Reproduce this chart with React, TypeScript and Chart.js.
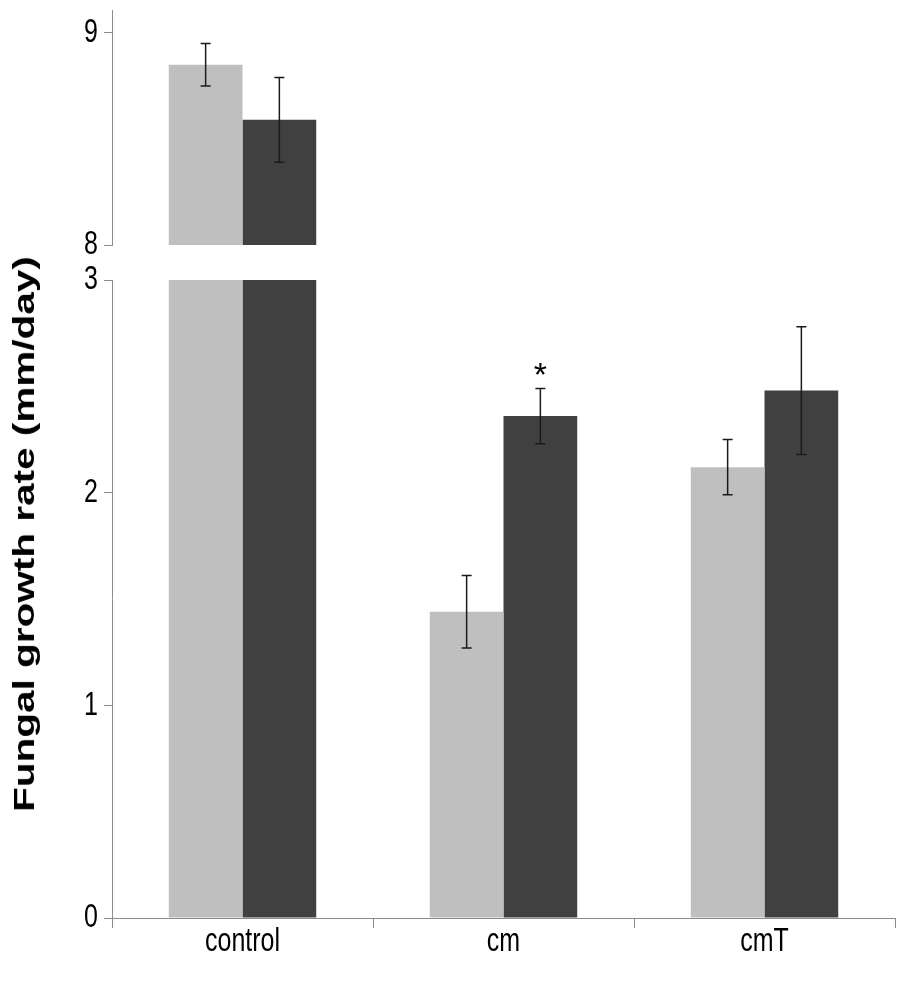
import React, { useEffect, useRef } from "react";
import Chart from "chart.js/auto";

const categories = ["control", "cm", "cmT"];
const lightValues = [8.85, 1.44, 2.12];
const lightErrors = [0.1, 0.17, 0.13];
const darkValues = [8.59, 2.36, 2.48];
const darkErrors = [0.2, 0.13, 0.3];
const darkMarks = ["", "*", ""];
const upperTicks = [8, 9];
const lowerTicks = [0, 1, 2, 3];
const yTitle = "Fungal growth rate (mm/day)";

const LIGHT = "#bfbfbf";
const DARK = "#404040";
const AXIS = "#8c8c8c";
const LABEL_FONT = "25px 'Liberation Sans', Arial, sans-serif";

// draws the whiskers (and significance marks) on top of the bars
const errorBars = {
    id: "errorBars",
    afterDatasetsDraw(chart: any) {
        const { ctx } = chart;
        const y = chart.scales.y;
        ctx.save();
        ctx.strokeStyle = "#1a1a1a";
        ctx.lineWidth = 1.5;
        chart.data.datasets.forEach((ds: any, i: number) => {
            const meta = chart.getDatasetMeta(i);
            meta.data.forEach((bar: any, j: number) => {
                const v = ds.data[j];
                if (v == null || v > y.max || v < y.min) return;
                const e = ds.errors[j];
                const top = y.getPixelForValue(v + e);
                const bottom = y.getPixelForValue(v - e);
                const x = bar.x;
                ctx.beginPath();
                ctx.moveTo(x, top);
                ctx.lineTo(x, bottom);
                ctx.moveTo(x - 5, top);
                ctx.lineTo(x + 5, top);
                ctx.moveTo(x - 5, bottom);
                ctx.lineTo(x + 5, bottom);
                ctx.stroke();
                const mark = ds.marks ? ds.marks[j] : "";
                if (mark) {
                    ctx.fillStyle = "#000";
                    ctx.font = "34px 'Liberation Sans', Arial, sans-serif";
                    ctx.textAlign = "center";
                    ctx.textBaseline = "middle";
                    ctx.fillText(mark, x, top - 12);
                }
            });
        });
        ctx.restore();
    },
};

// the original figure is stretched vertically, so tick labels are drawn tall and narrow
const stretchedLabels = {
    id: "stretchedLabels",
    afterDraw(chart: any) {
        const { ctx } = chart;
        const draw = (text: string, x: number, y: number, align: string) => {
            ctx.save();
            ctx.translate(x, y);
            ctx.scale(1, 1.35);
            ctx.fillStyle = "#000";
            ctx.font = LABEL_FONT;
            ctx.textAlign = align;
            ctx.textBaseline = "middle";
            ctx.fillText(text, 0, 0);
            ctx.restore();
        };
        const ys = chart.scales.y;
        ys.ticks.forEach((t: any, i: number) => draw(String(t.value), ys.right - 14, ys.getPixelForTick(i), "right"));
        const xs = chart.scales.x;
        if (xs.options.display) {
            xs.ticks.forEach((t: any, i: number) => draw(String(chart.data.labels[i]), xs.getPixelForTick(i), xs.top + 24, "center"));
        }
    },
};

interface PanelProps {
    top: number;
    height: number;
    min: number;
    max: number;
    ticks: number[];
    showX: boolean;
    padBottom: number;
}

const Panel: React.FC<PanelProps> = ({ top, height, min, max, ticks, showX, padBottom }) => {
    const chartRef = useRef<HTMLCanvasElement>(null);

    useEffect(() => {
        if (!chartRef.current) return;
        const keep = (vals: number[]) => vals.map((v) => (v >= min ? v : null));
        const chart = new Chart(chartRef.current, {
            type: "bar",
            data: {
                labels: categories,
                datasets: [
                    { data: keep(lightValues), errors: lightErrors, backgroundColor: LIGHT } as any,
                    { data: keep(darkValues), errors: darkErrors, marks: darkMarks, backgroundColor: DARK } as any,
                ],
            },
            options: {
                animation: false,
                responsive: false,
                maintainAspectRatio: false,
                layout: { padding: { top: 20, bottom: padBottom, left: 0, right: 5 } },
                datasets: { bar: { categoryPercentage: 0.565, barPercentage: 1 } },
                plugins: {
                    legend: { display: false },
                    tooltip: { enabled: false },
                },
                scales: {
                    x: {
                        display: showX,
                        grid: { offset: true, drawOnChartArea: false, drawTicks: true, tickLength: 10, color: AXIS },
                        border: { color: AXIS, width: 1 },
                        ticks: { display: false },
                        afterFit: (s: any) => {
                            if (showX) s.height = 74;
                        },
                    },
                    y: {
                        min: min,
                        max: max,
                        afterBuildTicks: (s: any) => {
                            s.ticks = ticks.map((value) => ({ value }));
                        },
                        afterFit: (s: any) => {
                            s.width = 112;
                        },
                        grid: { drawOnChartArea: false, tickLength: 8, color: AXIS },
                        border: { color: AXIS, width: 1 },
                        ticks: { display: false },
                    },
                },
            } as any,
            plugins: [errorBars, stretchedLabels],
        });
        return () => {
            chart.destroy();
        };
    }, [min, max, ticks, showX, padBottom]);

    return (
        <canvas
            ref={chartRef}
            width={900}
            height={height}
            style={{ position: "absolute", left: 0, top: top, width: 900, height: height }}
        />
    );
};

const App: React.FC = () => {
    return (
        <div style={{ position: "absolute", left: 0, top: 0, width: 900, height: 992, background: "#fff", overflow: "hidden" }}>
            <Panel top={-10} height={275} min={8} max={9.108} ticks={upperTicks} showX={false} padBottom={20} />
            <Panel top={260} height={732} min={0} max={3} ticks={lowerTicks} showX={true} padBottom={0} />
            <div
                style={{
                    position: "absolute",
                    left: 24,
                    top: 534,
                    transform: "translate(-50%, -50%) rotate(-90deg) scaleX(1.35)",
                    whiteSpace: "nowrap",
                    fontFamily: "'Liberation Sans', Arial, sans-serif",
                    fontWeight: "bold",
                    fontSize: 30,
                    color: "#000",
                }}
            >
                {yTitle}
            </div>
        </div>
    );
};

export default App;
